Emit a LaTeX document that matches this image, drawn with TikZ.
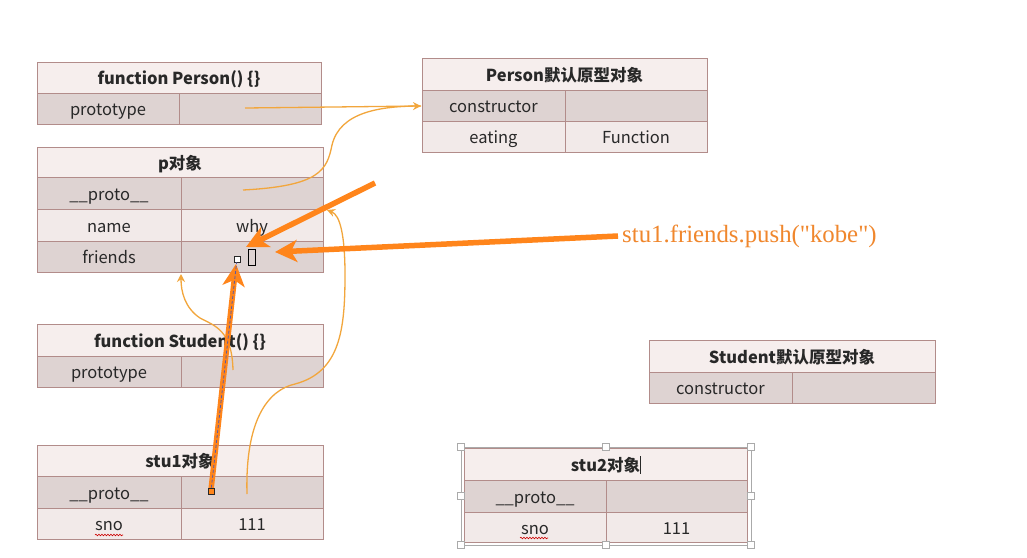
\documentclass[tikz,border=0pt]{standalone}
\usepackage{fontspec}
\setmainfont{Noto Sans CJK SC}
\newfontfamily\kobefont{Liberation Serif}
\usetikzlibrary{arrows.meta,decorations.pathmorphing}
\definecolor{bord}{RGB}{178,140,138}
\definecolor{hdrf}{RGB}{246,238,237}
\definecolor{dkf}{RGB}{222,211,210}
\definecolor{ltf}{RGB}{242,234,233}
\definecolor{txt}{RGB}{40,40,40}
\definecolor{thinor}{RGB}{242,166,60}
\definecolor{thickor}{RGB}{255,133,27}
\definecolor{kobec}{RGB}{240,135,45}
\definecolor{selg}{RGB}{170,170,170}
\tikzset{
 cell/.style={draw=bord, line width=1pt, inner sep=0pt, text=txt, font=\fontsize{16.5}{19}\selectfont, anchor=center, text height=14pt, text depth=0pt},
 hdr/.style={cell, fill=hdrf, font=\fontsize{16.5}{19}\selectfont\bfseries},
 dk/.style={cell, fill=dkf},
 lt/.style={cell, fill=ltf},
 lnk/.style={draw=thinor, line width=1.3pt},
 lnkarrow/.style={lnk, -{Stealth[length=8pt,width=8pt]}},
 big/.style={draw=thickor, line width=5.5pt, -{Stealth[length=22pt,width=22pt,inset=6pt]}},
 handle/.style={draw=selg, fill=white, line width=0.8pt, minimum size=7pt, inner sep=0pt},
 squig/.style={draw=red!80!black, line width=0.6pt, decorate, decoration={snake, amplitude=0.8pt, segment length=3pt}}
}
\begin{document}
\begin{tikzpicture}[x=1pt,y=-1pt]
\useasboundingbox[fill=white] (0,0) rectangle (1027,557);

% function Person() {}
\node[hdr, minimum width=284pt, minimum height=31pt] (perH) at (179,77.5) {function Person() \{\}};
\node[dk, minimum width=142pt, minimum height=31pt] (perK) at (108,108.5) {prototype};
\node[dk, minimum width=142pt, minimum height=31pt] (perV) at (250,108.5) {};

% Person default prototype
\node[hdr, minimum width=285pt, minimum height=32pt] (ppH) at (564.5,74) {Person默认原型对象};
\node[dk, minimum width=143pt, minimum height=31pt] (ppK1) at (493.5,105.5) {constructor};
\node[dk, minimum width=142pt, minimum height=31pt] (ppV1) at (636,105.5) {};
\node[lt, minimum width=143pt, minimum height=31pt] (ppK2) at (493.5,136.5) {eating};
\node[lt, minimum width=142pt, minimum height=31pt] (ppV2) at (636,136.5) {Function};

% p object
\node[hdr, minimum width=286pt, minimum height=30pt] (pH) at (180,162) {p对象};
\node[dk, minimum width=144pt, minimum height=32pt] (pK1) at (109,193) {\_\_proto\_\_};
\node[dk, minimum width=142pt, minimum height=32pt] (pV1) at (252,193) {};
\node[lt, minimum width=144pt, minimum height=32pt] (pK2) at (109,225) {name};
\node[lt, minimum width=142pt, minimum height=32pt] (pV2) at (252,225) {why};
\node[dk, minimum width=144pt, minimum height=31pt] (pK3) at (109,256.5) {friends};
\node[dk, minimum width=142pt, minimum height=31pt] (pV3) at (252,256.5) {};

% function Student() {}
\node[hdr, minimum width=286pt, minimum height=32pt] (stH) at (180,340) {function Student() \{\}};
\node[dk, minimum width=144pt, minimum height=31pt] (stK) at (109,371.5) {prototype};
\node[dk, minimum width=142pt, minimum height=31pt] (stV) at (252,371.5) {};

% Student default prototype
\node[hdr, minimum width=286pt, minimum height=32pt] (spH) at (792,356) {Student默认原型对象};
\node[dk, minimum width=143pt, minimum height=31pt] (spK) at (720.5,387.5) {constructor};
\node[dk, minimum width=143pt, minimum height=31pt] (spV) at (863.5,387.5) {};

% stu1
\node[hdr, minimum width=286pt, minimum height=31pt] (s1H) at (180,460.5) {stu1对象};
\node[dk, minimum width=144pt, minimum height=32pt] (s1K1) at (109,492) {\_\_proto\_\_};
\node[dk, minimum width=142pt, minimum height=32pt] (s1V1) at (252,492) {};
\node[lt, minimum width=144pt, minimum height=31pt] (s1K2) at (109,523.5) {sno};
\node[lt, minimum width=142pt, minimum height=31pt] (s1V2) at (252,523.5) {111};

% stu2
\node[hdr, minimum width=283pt, minimum height=32pt] (s2H) at (605.5,464) {stu2对象};
\node[dk, minimum width=142pt, minimum height=32pt] (s2K1) at (535,496) {\_\_proto\_\_};
\node[dk, minimum width=141pt, minimum height=32pt] (s2V1) at (676.5,496) {};
\node[lt, minimum width=142pt, minimum height=30pt] (s2K2) at (535,527) {sno};
\node[lt, minimum width=141pt, minimum height=30pt] (s2V2) at (676.5,527) {111};

% spell-check squiggles
\coordinate (sq1a) at (95,535); \coordinate (sq1b) at (123,535);
\coordinate (sq2a) at (520,538); \coordinate (sq2b) at (548,538);
\draw[squig] (sq1a) -- (sq1b);
\draw[squig] (sq2a) -- (sq2b);

% selection frame around stu2 with text cursor
\draw[selg, line width=0.8pt] (461,447) rectangle (751,545);
\draw[txt, line width=0.8pt] (640,456) -- (640,474);
\foreach \hx/\hy [count=\i] in {461/447,606/447,751/447,461/496,751/496,461/545,606/545,751/545}
  \node[handle] (h\i) at (\hx,\hy) {};

% thin orange links
\coordinate (perVs) at (245,108);
\coordinate (ppIn) at (421,106);
\coordinate (pV1s) at (243,190);
\coordinate (stVs) at (233,370);
\coordinate (pBot) at (181,274);
\coordinate (s1Vs) at (247,494);
\coordinate (pRight) at (327,210);
\draw[lnkarrow] (perVs) -- (ppIn);
\draw[lnk] (pV1s) .. controls (320,186) and (327,170) .. (332,145) .. controls (340,112) and (380,106) .. (ppIn);
\draw[lnkarrow] (stVs) .. controls (232,330) and (215,326) .. (200,318) .. controls (185,308) and (181,292) .. (pBot);
\draw[lnkarrow] (s1Vs) .. controls (245,420) and (268,390) .. (295,384) .. controls (340,372) and (345,330) .. (345,275) .. controls (345,235) and (340,215) .. (pRight);

% empty array box in friends cell
\node[draw=black, line width=0.9pt, minimum width=7pt, minimum height=16pt, inner sep=0pt] (arr) at (251.5,257.5) {};

% kobe label
\node[font=\kobefont\fontsize{24.8}{28}\selectfont, text=kobec, anchor=west, inner sep=0pt] (kobe) at (622,236) {stu1.friends.push("kobe")};

% thick orange arrows
\coordinate (a1s) at (375,183);
\coordinate (a1e) at (246,247);
\coordinate (a2e) at (275,252);
\coordinate (a3s) at (211,490);
\coordinate (a3e) at (236,264);
\draw[big] (a1s) -- (a1e);
\draw[big] ([xshift=-4pt]kobe.west) -- (a2e);
\draw[big] (a3s) -- (a3e);

% selection markers on the arrow
\node[draw=txt, fill=white, line width=0.7pt, minimum size=6pt, inner sep=0pt] (m1) at (237,259) {};
\node[draw=txt, fill=thickor, line width=0.7pt, minimum size=6pt, inner sep=0pt] (m2) at (211,491) {};
\draw[gray!70!blue, line width=0.8pt, dashed, dash pattern=on 3pt off 2pt] (m2) -- (m1);
\end{tikzpicture}
\end{document}
